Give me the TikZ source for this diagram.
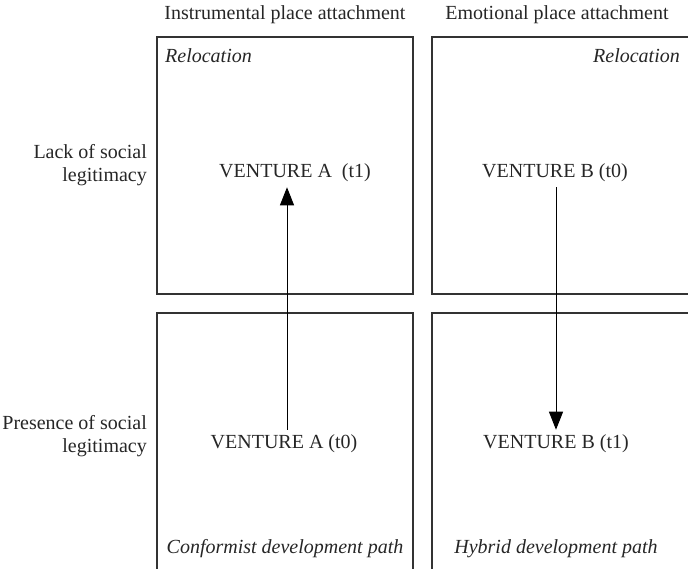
\documentclass[tikz,border=0pt]{standalone}
\usepackage{fontspec}
\setmainfont{Liberation Serif}
\usetikzlibrary{arrows.meta}
\begin{document}
\begin{tikzpicture}[x=1pt,y=-1pt,
  quad/.style={draw=black!80,line width=1.2pt},
  lbl/.style={font=\fontsize{20}{23}\selectfont,inner sep=0pt,text=black!85},
  ital/.style={lbl,font=\fontsize{20}{23}\selectfont\itshape},
  side/.style={lbl,align=right,anchor=east},
  venture/.style={lbl,inner sep=5pt},
  flow/.style={line width=1pt,-{Triangle[width=14pt,length=18pt]}}]
\useasboundingbox (0,0) rectangle (688,568);
\clip (0,0) rectangle (688,568);
% quadrants
\draw[quad] (157,37) rectangle (413,294);
\draw[quad] (432,37) rectangle (690,294);
\draw[quad] (157,313) rectangle (413,572);
\draw[quad] (432,313) rectangle (690,572);
% headers
\node[lbl] (h1) at (285,15) {Instrumental place attachment};
\node[lbl] (h2) at (557,15) {Emotional place attachment};
\node[side] (r1) at (147,165) {Lack of social\\legitimacy};
\node[side] (r2) at (147,436) {Presence of social\\legitimacy};
% corner labels
\node[ital,anchor=west] (rel1) at (165,56) {Relocation};
\node[ital,anchor=east] (rel2) at (680,56) {Relocation};
\node[ital] (p1) at (285,549) {Conformist development path};
\node[ital] (p2) at (556,549) {Hybrid development path};
% ventures
\node[venture] (a1) at (295,173) {VENTURE A~~(t1)};
\node[venture] (b0) at (555,173) {VENTURE B (t0)};
\node[venture] (a0) at (284,444) {VENTURE A (t0)};
\node[venture] (b1) at (556,444) {VENTURE B (t1)};
% arrows
\draw[flow] (a0.north -| 287,0) -- (a1.south -| 287,0);
\draw[flow] (b0.south -| 556,0) -- (b1.north -| 556,0);
\end{tikzpicture}
\end{document}
